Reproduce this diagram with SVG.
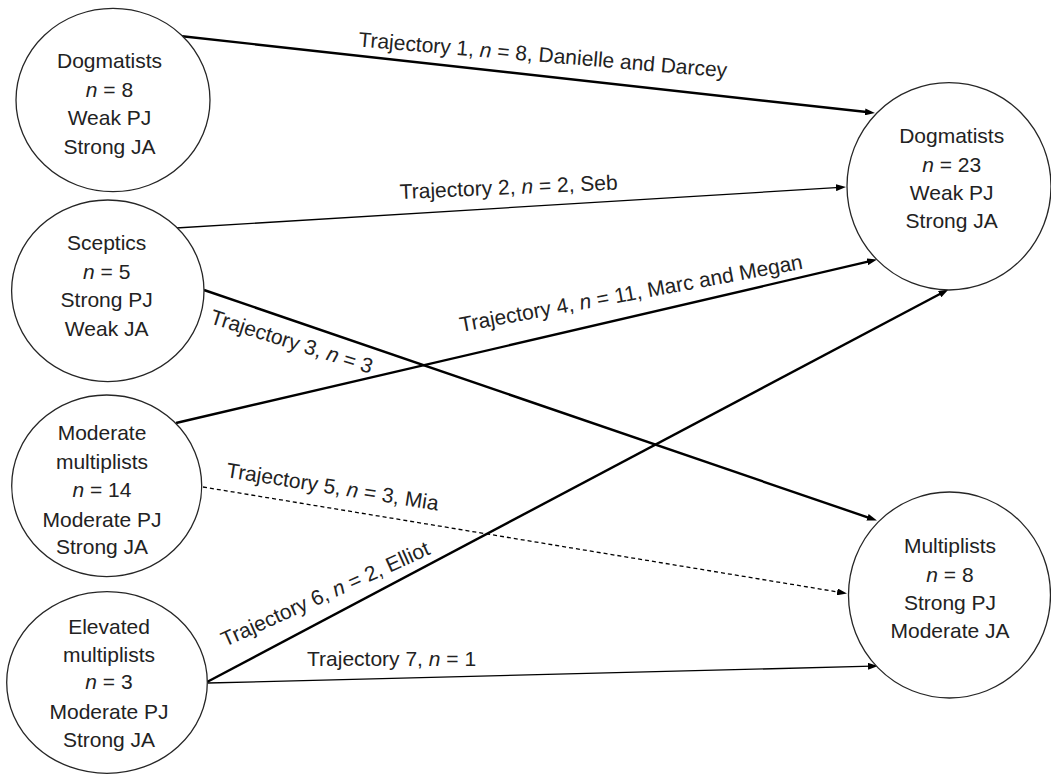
<svg xmlns="http://www.w3.org/2000/svg" width="1051" height="774" viewBox="0 0 1051 774">
<style>
  .node ellipse { fill: #ffffff; stroke: #262626; stroke-width: 1.3; }
  .node text { font-family: "Liberation Sans", Arial, sans-serif; font-size: 21px; fill: #222222; text-anchor: middle; }
  .lbl { font-family: "Liberation Sans", Arial, sans-serif; font-size: 21px; fill: #222222; }
  .i { font-style: italic; }
  .edge { fill: none; stroke: #000000; marker-end: url(#arrow); }
  .thick { stroke-width: 2.4; }
  .thin { stroke-width: 1.3; }
  .dash { stroke-dasharray: 4 3; }
</style>
<defs>
  <marker id="arrow" viewBox="0 0 10 7" markerWidth="10" markerHeight="7" refX="4" refY="3.5" orient="auto" markerUnits="userSpaceOnUse">
    <path d="M0,0 L10,3.5 L0,7 z" fill="#000000" stroke="none"/>
  </marker>
</defs>
<rect x="0" y="0" width="1051" height="774" fill="#ffffff"/>

<g id="connectors">
  <path class="edge thick" d="M180,36 L869,112.3"/>
  <path class="edge thin" d="M176,228 L840,187.4"/>
  <path class="edge thick" d="M204,290 L871.3,518.6"/>
  <path class="edge thick" d="M176,423 L871.2,260.9"/>
  <path class="edge thin dash" d="M203,487 L841.1,592.5"/>
  <path class="edge thick" d="M207,682 L943.2,292.3"/>
  <path class="edge thin" d="M208,683 L872,666.2"/>

  <text class="lbl" transform="translate(358,46.5) rotate(4.8)">Trajectory 1, <tspan class="i">n</tspan> = 8, Danielle and Darcey</text>
  <text class="lbl" transform="translate(400,199) rotate(-2.5)">Trajectory 2, <tspan class="i">n</tspan> = 2, Seb</text>
  <text class="lbl" transform="translate(209,323) rotate(17.5)">Trajectory 3, <tspan class="i">n</tspan> = 3</text>
  <text class="lbl" transform="translate(461,332) rotate(-10.5)">Trajectory 4, <tspan class="i">n</tspan> = 11, Marc and Megan</text>
  <text class="lbl" transform="translate(225.5,477) rotate(9)">Trajectory 5, <tspan class="i">n</tspan> = 3, Mia</text>
  <text class="lbl" transform="translate(225,647) rotate(-24.3)">Trajectory 6, <tspan class="i">n</tspan> = 2, Elliot</text>
  <text class="lbl" transform="translate(307,666)">Trajectory 7, <tspan class="i">n</tspan> = 1</text>
</g>

<g id="node-dogmatists-before" class="node">
  <ellipse cx="113" cy="100" rx="97" ry="91.7"/>
  <text x="109.5" y="67.7">Dogmatists</text>
  <text x="109.5" y="96.7"><tspan class="i">n</tspan> = 8</text>
  <text x="109.5" y="125">Weak PJ</text>
  <text x="109.5" y="154">Strong JA</text>
</g>

<g id="node-sceptics" class="node">
  <ellipse cx="107.8" cy="290.8" rx="96.2" ry="90.8"/>
  <text x="106.7" y="250">Sceptics</text>
  <text x="106.7" y="278.5"><tspan class="i">n</tspan> = 5</text>
  <text x="106.7" y="307.3">Strong PJ</text>
  <text x="106.7" y="336">Weak JA</text>
</g>

<g id="node-moderate-multiplists" class="node">
  <ellipse cx="106.7" cy="485.8" rx="95" ry="90.8"/>
  <text x="102" y="440">Moderate</text>
  <text x="102" y="469.3">multiplists</text>
  <text x="102" y="497.3"><tspan class="i">n</tspan> = 14</text>
  <text x="102" y="526.7">Moderate PJ</text>
  <text x="102" y="554">Strong JA</text>
</g>

<g id="node-elevated-multiplists" class="node">
  <ellipse cx="107" cy="682.5" rx="100.3" ry="90.8"/>
  <text x="109" y="634">Elevated</text>
  <text x="109" y="661.7">multiplists</text>
  <text x="109" y="689.3"><tspan class="i">n</tspan> = 3</text>
  <text x="109" y="719.3">Moderate PJ</text>
  <text x="109" y="747.3">Strong JA</text>
</g>

<g id="node-dogmatists-after" class="node">
  <ellipse cx="949" cy="186.3" rx="102" ry="103.7"/>
  <text x="951.7" y="143.3">Dogmatists</text>
  <text x="951.7" y="171.7"><tspan class="i">n</tspan> = 23</text>
  <text x="951.7" y="200">Weak PJ</text>
  <text x="951.7" y="228.3">Strong JA</text>
</g>

<g id="node-multiplists-after" class="node">
  <ellipse cx="949.5" cy="595" rx="101" ry="103"/>
  <text x="950" y="553.3">Multiplists</text>
  <text x="950" y="581.7"><tspan class="i">n</tspan> = 8</text>
  <text x="950" y="610">Strong PJ</text>
  <text x="950" y="638.3">Moderate JA</text>
</g>
</svg>
